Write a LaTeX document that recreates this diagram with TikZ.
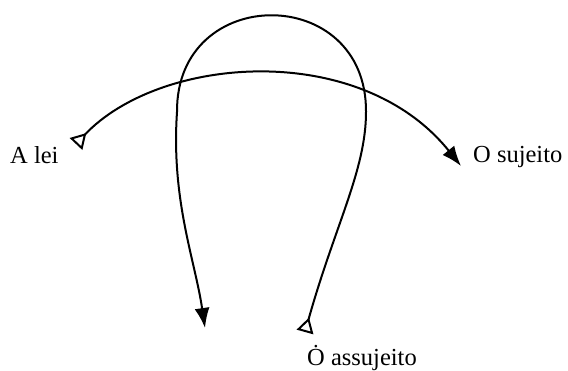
\documentclass[tikz,border=0pt]{standalone}
\usepackage{fontspec}
\setmainfont{Liberation Serif}
\usetikzlibrary{arrows.meta}
\begin{document}
\begin{tikzpicture}[x=1pt,y=-1pt,
  lbl/.style={font=\fontsize{24.5}{28}\selectfont, inner sep=0pt, anchor=base west},
  curve/.style={line width=2pt, line cap=round},
  bothtips/.style={arrows={Triangle[open,reversed,length=15pt,width=17pt,line width=2pt]-Latex[length=20pt,width=15pt]}}]
\useasboundingbox (0,0) rectangle (568,370);
\node[lbl] (lei) at (10,163) {A lei};
\node[lbl] (sujeito) at (473,162) {O sujeito};
\node[lbl] (assujeito) at (307,365) {\.{O} assujeito};
\coordinate (leistart) at (76,144);
\coordinate (sujend) at (461,166);
\coordinate (assstart) at (305,332);
\coordinate (rtop) at (366,112);
\coordinate (ltop) at (177,112);
\coordinate (loopend) at (205,328);
\draw[curve,bothtips] (leistart) .. controls (160,55) and (360,40) .. (sujend);
\draw[curve,bothtips] (assstart) .. controls (335,225) and (366,170) .. (rtop)
  .. controls (367,-17) and (176,-17) .. (ltop)
  .. controls (171,200) and (195,260) .. (loopend);
\end{tikzpicture}
\end{document}
